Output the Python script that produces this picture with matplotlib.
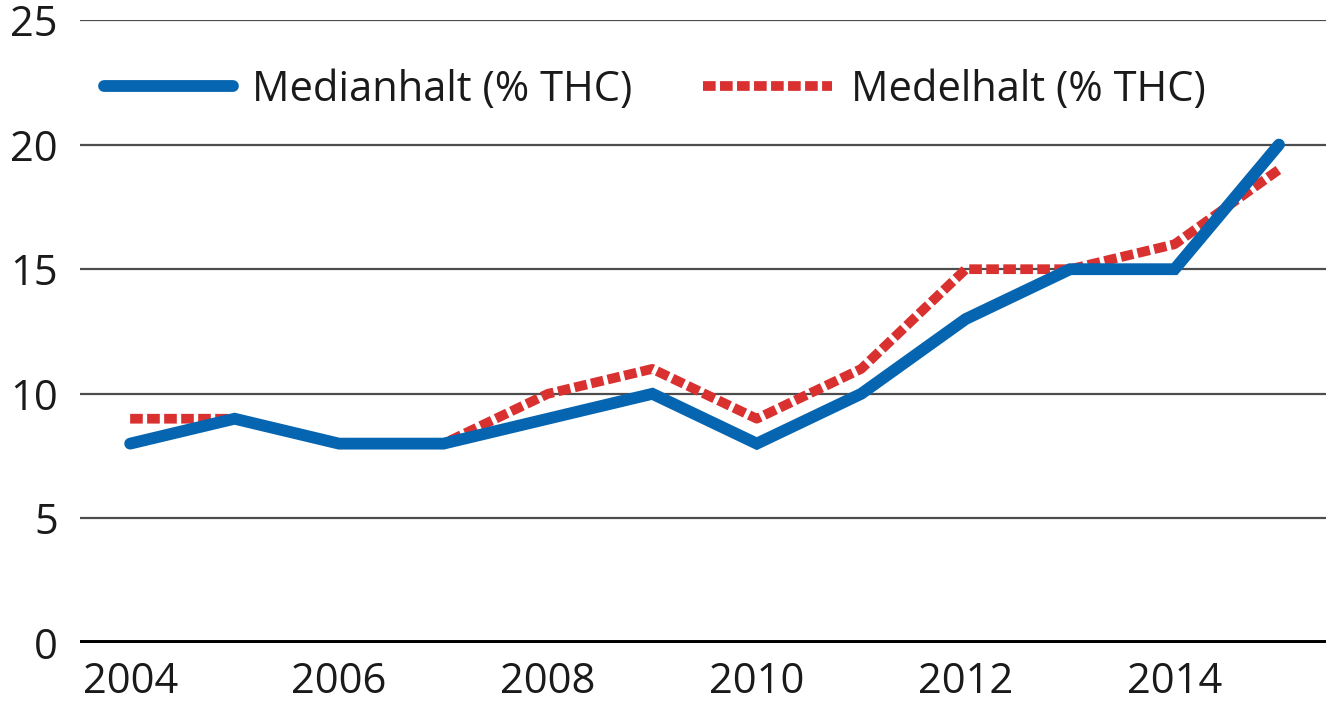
import matplotlib
matplotlib.use("Agg")
import matplotlib.pyplot as plt
from matplotlib.lines import Line2D

years = [2004, 2005, 2006, 2007, 2008, 2009, 2010, 2011, 2012, 2013, 2014, 2015]
median_thc = [8, 9, 8, 8, 9, 10, 8, 10, 13, 15, 15, 20]
mean_thc = [9, 9, 8, 8, 10, 11, 9, 11, 15, 15, 16, 19]
yticks = [0, 5, 10, 15, 20, 25]
xticks = [2004, 2006, 2008, 2010, 2012, 2014]
label_median = "Medianhalt (% THC)"
label_mean = "Medelhalt (% THC)"

plt.rcParams['font.family'] = ['Open Sans', 'DejaVu Sans']

W, H = 1326, 715
fig = plt.figure(figsize=(W/100, H/100), dpi=100)
ax = fig.add_axes([80/W, 72/H, 1 - 80/W, (643-20)/H])

blue = "#0565b0"
red = "#d93030"
fs = 30

for y in yticks[1:]:
    ax.axhline(y, color="#4d4d4d", lw=1.6, zorder=1)
ax.axhline(0, color="black", lw=5, zorder=1)

ax.plot(years, mean_thc, color=red, lw=7, dashes=(1.3, 0.45),
        solid_capstyle="butt", dash_capstyle="butt", zorder=2)
ax.plot(years, median_thc, color=blue, lw=8.5, solid_capstyle="round",
        solid_joinstyle="miter", zorder=3)

ax.set_xlim(2003.52, 2015.45)
ax.set_ylim(0, 25)
ax.set_yticks(yticks)
ax.set_xticks(xticks)
ax.tick_params(axis="both", length=0, labelsize=fs, colors="#1a1a1a")
ax.tick_params(axis="y", pad=16)
ax.tick_params(axis="x", pad=13)
for s in ax.spines.values():
    s.set_visible(False)

handles = [
    Line2D([], [], color=blue, lw=8.5, solid_capstyle="round"),
    Line2D([], [], color=red, lw=7, dashes=(1.3, 0.45), dash_capstyle="butt"),
]
ax_w = W - 80
leg = ax.legend(handles, [label_median, label_mean], ncol=2, frameon=False,
                loc="center left", bbox_to_anchor=(24/ax_w, (643-90)/623),
                borderaxespad=0, borderpad=0,
                fontsize=fs, handlelength=3.1, handletextpad=0.45,
                columnspacing=1.7, labelcolor="#1a1a1a")

fig.savefig("out.png", dpi=100)
